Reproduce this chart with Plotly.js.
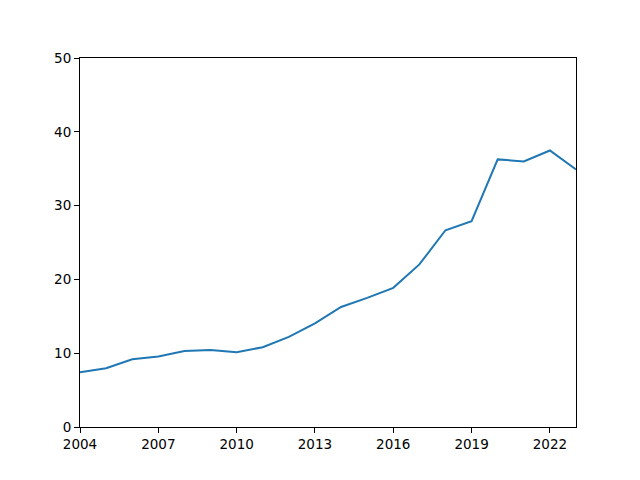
<!DOCTYPE html>
<html lang="en">
  <head>
    <meta charset="UTF-8" />
    <title>Line chart</title>
    <script src="https://cdn.plot.ly/plotly-3.0.1.min.js"></script>
    <style>
      * {
        margin: 0;
        padding: 0;
      }
      #chart {
        width: 640px;
        height: 480px;
      }
    </style>
  </head>
  <body>
    <div id="chart"></div>
    <script>
      // values
      const years = [
        2004, 2005, 2006, 2007, 2008, 2009, 2010, 2011, 2012, 2013, 2014, 2015,
        2016, 2017, 2018, 2019, 2020, 2021, 2022, 2023,
      ];
      const values = [
        7.43, 7.97, 9.19, 9.54, 10.31, 10.45, 10.14, 10.81, 12.2, 14.05, 16.26,
        17.5, 18.86, 22.03, 26.66, 27.88, 36.26, 35.99, 37.47, 34.9,
      ];
      const xTicks = [2004, 2007, 2010, 2013, 2016, 2019, 2022];
      const yTicks = [0, 10, 20, 30, 40, 50];

      const axisStyle = {
        showgrid: false,
        zeroline: false,
        showline: true,
        mirror: true,
        linecolor: "#000000",
        linewidth: 1,
        ticks: "outside",
        ticklen: 5,
        tickwidth: 1,
        tickcolor: "#000000",
        tickfont: { family: "DejaVu Sans", size: 13.5, color: "#000000" },
      };

      const trace = {
        x: years,
        y: values,
        type: "scatter",
        mode: "lines",
        line: { color: "#1f77b4", width: 2 },
      };

      const layout = {
        width: 640,
        height: 480,
        margin: { l: 80, r: 64, t: 58, b: 53 },
        paper_bgcolor: "#ffffff",
        plot_bgcolor: "#ffffff",
        showlegend: false,
        xaxis: Object.assign({}, axisStyle, {
          range: [2004, 2023],
          tickvals: xTicks,
          ticktext: xTicks.map(String),
        }),
        yaxis: Object.assign({}, axisStyle, {
          range: [0, 50],
          tickvals: yTicks,
        }),
      };

      Plotly.newPlot("chart", [trace], layout, { staticPlot: true });
    </script>
  </body>
</html>
